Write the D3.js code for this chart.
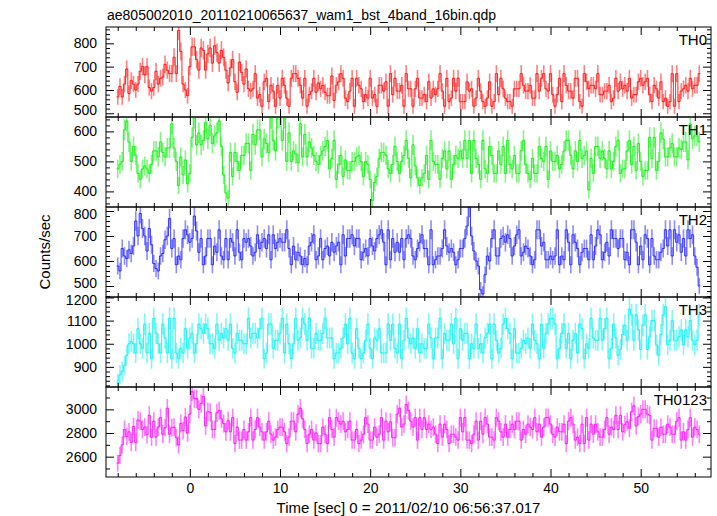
<!DOCTYPE html>
<html><head><meta charset="utf-8">
<script src="https://cdn.jsdelivr.net/npm/d3@7"></script>
<style>
body{margin:0;background:#fff;}
svg{display:block;font-family:"Liberation Sans",Arial,Helvetica,sans-serif;}
</style></head>
<body>
<svg id="c" width="717" height="516"></svg>
<script>
// ---- data ----
const title = "ae805002010_20110210065637_wam1_bst_4band_16bin.qdp";
const xLabel = "Time [sec] 0 = 2011/02/10 06:56:37.017";
const yLabel = "Counts/sec";
const panelNames = ["TH0","TH1","TH2","TH3","TH0123"];
const binStart = -8.0;     // sec, first bin centre
const binWidth = 0.25;     // sec
const effExposure = 0.5;   // sec, effective exposure used for the error bars
const xTicksMajor = [0,10,20,30,40,50];

const th0 = [
570,615,570,625,690,585,640,625,600,625,680,700,665,700,610,595,610,680,625,650,
655,710,685,670,670,740,670,855,765,625,600,575,700,785,785,730,685,780,770,685,
755,780,715,790,760,715,770,740,685,630,695,730,635,590,720,675,625,690,605,595,
605,670,565,580,530,635,650,550,620,595,530,620,565,650,620,565,530,650,670,670,
650,620,565,650,530,580,595,650,590,630,605,620,590,575,575,660,555,620,635,670,
650,565,550,595,650,530,650,620,605,550,580,565,650,565,580,530,620,620,595,635,
530,670,580,650,595,595,620,530,670,605,605,530,605,650,565,565,580,550,635,565,
605,580,605,670,595,530,650,550,565,650,595,650,550,550,550,635,595,605,530,565,
650,595,550,530,565,635,530,550,670,580,650,605,565,550,550,530,605,605,605,670,
620,595,595,620,565,565,670,595,650,670,605,595,670,580,530,580,650,550,670,620,
595,595,565,650,650,550,530,670,635,605,620,620,605,670,580,580,595,595,620,550,
565,650,595,635,605,620,595,650,565,580,580,635,650,620,635,650,580,550,620,605,
565,635,550,565,530,550,670,530,670,550,595,605,620,595,650,605,620,620,670];
const th1 = [
475,490,500,605,635,565,500,550,520,460,440,475,485,475,460,490,535,535,515,565,
530,515,545,545,625,545,500,420,515,455,505,425,460,580,645,555,595,555,570,630,
575,620,560,585,595,635,550,455,395,378,530,450,530,500,470,520,520,560,560,470,
590,555,605,605,515,575,560,530,645,570,535,645,650,570,645,500,595,500,535,525,
495,625,515,590,515,565,545,520,500,490,520,535,550,570,475,510,570,440,490,520,
450,505,470,470,500,500,515,520,500,450,500,490,440,370,430,450,510,530,530,520,
475,460,490,550,500,460,500,520,570,510,445,555,485,445,420,445,460,520,440,570,
500,490,490,440,510,535,475,535,440,490,520,510,535,510,570,510,570,460,570,510,
490,440,570,475,460,550,520,460,460,535,490,550,460,570,490,475,520,460,460,535,
570,490,460,440,510,460,460,550,510,500,550,440,535,500,500,520,475,490,535,570,
570,520,475,535,500,570,510,520,535,405,510,460,550,550,510,535,510,475,535,475,
500,550,570,460,475,475,535,570,490,550,470,560,500,450,470,470,580,510,580,470,
500,595,575,515,515,545,560,515,515,545,540,565,565,505,625,575,585,585,565];
const th2 = [
580,560,650,620,610,645,630,660,760,700,790,730,700,640,730,665,590,570,560,620,
630,685,700,770,650,690,585,620,605,690,725,705,675,690,780,720,635,690,585,620,
690,690,585,660,635,725,620,605,690,605,690,675,620,725,635,605,690,675,690,660,
620,635,705,650,675,690,650,705,605,705,650,675,690,675,675,725,650,585,660,605,
635,620,585,610,585,660,675,705,605,620,690,605,650,660,620,675,635,660,675,585,
705,620,690,690,705,660,690,690,605,635,650,620,690,660,640,690,705,725,675,585,
725,605,690,635,675,635,690,605,690,705,690,620,605,650,675,705,650,650,585,725,
585,605,620,620,650,725,660,635,650,635,585,605,650,650,690,740,815,700,640,600,
580,485,468,545,620,600,690,725,620,620,690,700,675,705,690,620,660,705,725,620,
635,660,650,620,585,605,725,725,660,675,605,605,620,605,620,725,585,620,605,725,
675,585,705,675,650,585,635,650,650,605,705,605,660,725,705,605,635,675,620,725,
690,690,650,690,690,605,635,585,725,725,675,585,660,605,705,690,585,690,620,605,
605,635,650,725,660,725,620,725,675,705,635,690,620,725,690,705,620,575,500];
const th3 = [
830,865,880,905,950,1000,1010,1000,960,1065,1000,980,1085,960,1045,935,1110,1045,1000,960,
1085,1025,960,1110,935,1110,960,935,980,960,1065,980,1025,1045,960,1000,1085,1065,1045,1085,
1065,1000,1000,980,1085,1015,1045,1025,1065,1015,1085,980,960,1045,1015,1015,1000,1000,1110,1025,
1045,1045,1025,1065,1110,935,960,1085,1085,980,1015,1015,1045,1110,960,1085,1000,935,1000,1110,
1015,1025,1110,1085,1015,1110,980,980,1045,1015,1015,1045,1110,1025,1025,1025,935,960,960,980,
1025,1085,1000,1110,960,935,1065,980,935,960,1015,1085,980,935,1025,1015,1065,960,960,960,
1085,1015,1085,980,960,1085,935,1015,1110,1025,1000,1025,980,1065,960,1000,980,980,1085,1025,
935,1025,1025,1110,935,1045,1015,1015,1085,1000,1110,935,1065,1015,1045,1045,935,1000,980,1085,
980,1000,960,1025,1045,1085,935,1085,1015,960,980,1085,1110,1065,1045,935,1065,960,960,980,
1015,1000,1025,980,1085,1015,1000,935,1085,980,1045,1085,1110,1110,1085,935,980,1045,1085,980,
1045,935,1015,1045,960,1085,1065,935,1000,980,1110,1025,1015,1015,1110,1015,1065,1110,935,980,
1085,1025,950,975,1040,1080,1015,1150,1125,1015,1125,1060,975,1080,1125,975,1030,1100,1100,995,
950,1040,1125,1160,995,1015,1100,1015,1015,1030,1060,995,1060,1030,1100,1015,995,1015,1125];
const th0123 = [
2545,2610,2700,2830,2770,2810,2720,2855,2720,2910,2900,2830,2850,2785,2950,2765,2900,2765,2850,2930,
2790,2845,3010,2790,2845,2850,2760,2700,2880,2820,2935,2800,2960,3150,3090,3090,3000,3050,3110,2860,
2980,2975,2830,2830,2970,2990,2920,2880,2810,2905,2810,2930,2710,2850,2740,2740,2830,2740,2810,2930,
2740,2830,2930,2850,2810,2740,2810,2900,2790,2740,2765,2830,2850,2850,2810,2710,2765,2900,2900,2810,
2960,3010,2920,2830,2710,2790,2830,2740,2800,2710,2710,2850,2790,2710,2930,2830,2765,2930,2900,2875,
2900,2810,2830,2900,2740,2740,2830,2710,2740,2790,2930,2875,2740,2740,2850,2765,2790,2930,2740,2900,
2810,2895,2760,2760,2960,3010,2850,2875,3040,2990,2900,2850,2930,2740,2930,2830,2930,2830,2875,2830,
2850,2790,2710,2875,2765,2875,2830,2710,2790,2790,2765,2740,2930,2810,2930,2740,2740,2710,2790,2900,
2740,2900,2790,2930,2875,2765,2765,2740,2930,2900,2810,2765,2875,2765,2830,2875,2830,2900,2900,2740,
2830,2790,2875,2850,2830,2930,2810,2875,2765,2850,2930,2930,2875,2790,2765,2850,2810,2810,2875,2710,
2900,2930,2875,2740,2765,2710,2875,2710,2930,2740,2875,2790,2875,2810,2765,2765,2830,2930,2790,2850,
2830,2950,2830,2950,2810,2870,2895,2840,2980,3030,2860,2940,2960,3000,3000,2960,2950,2740,2840,2840,
2765,2850,2790,2790,2875,2850,2790,2790,2900,2930,2740,2810,2740,2830,2930,2765,2850,2830,2790];

const yDomains = [[484,870],[348,648],[456,816],[813,1202],[2428,3189]];
const yMajors = [[500,600,700,800],[400,500,600],[500,600,700,800],[900,1000,1100,1200],[2600,2800,3000]];
const yMinorStep = [20,20,20,20,100];
const series = [th0, th1, th2, th3, th0123];
const colors = ["#ff0000","#00ee00","#1a1aff","#00f0f0","#ff00ff"];

// ---- layout ----
const svg = d3.select("#c");
const defs = svg.append("defs");
const L = 106, R = 711, T = 27, PH = 90, NP = 5;
const x = d3.scaleLinear().domain([-9.3, 57.8]).range([L, R]);
const xMinor = d3.range(-8, 58, 2).filter(v => v % 10 !== 0);
const FONT = '"Liberation Sans",Arial,sans-serif';

series.forEach((vals, p) => {
  const top = T + p*PH, bot = top + PH;
  const y = d3.scaleLinear().domain(yDomains[p]).range([bot, top]);
  const g = svg.append("g");
  const clipId = "clip"+p;
  defs.append("clipPath").attr("id", clipId)
    .append("rect").attr("x",L).attr("y",top).attr("width",R-L).attr("height",PH);

  const pts = vals.map((v,i) => ({t: binStart + i*binWidth, v: v, e: Math.sqrt(v/effExposure)}));
  const dg = g.append("g").attr("clip-path", `url(#${clipId})`);
  dg.selectAll("line.err").data(pts).join("line")
    .attr("x1", d => x(d.t)).attr("x2", d => x(d.t))
    .attr("y1", d => y(d.v - d.e)).attr("y2", d => y(d.v + d.e))
    .attr("stroke", colors[p]).attr("stroke-width", 1.6).attr("stroke-opacity", 0.5);
  const stepPts = [{t: pts[0].t - binWidth/2, v: pts[0].v}, ...pts, {t: pts[pts.length-1].t + binWidth/2, v: pts[pts.length-1].v}];
  dg.append("path").datum(stepPts)
    .attr("d", d3.line().x(d => x(d.t)).y(d => y(d.v)).curve(d3.curveStep))
    .attr("fill","none").attr("stroke", colors[p]).attr("stroke-width", 1).attr("stroke-opacity", 0.85);

  const mn = d3.range(Math.ceil(yDomains[p][0]/yMinorStep[p])*yMinorStep[p], yDomains[p][1], yMinorStep[p])
               .filter(v => !yMajors[p].includes(v));
  const ay = g.append("g").attr("transform",`translate(${L},0)`)
    .call(d3.axisLeft(y).tickValues(yMajors[p]).tickSize(-8).tickPadding(9).tickFormat(d3.format("d")));
  ay.selectAll("text").attr("font-size", 14).attr("fill","#000").attr("font-family",FONT)
    .attr("transform", d => {
      const py = y(d);
      if (py - top < 8) return "translate(0,3)";
      if (bot - py < 14) return "translate(0,-3)";
      return null;
    });
  g.append("g").attr("transform",`translate(${L},0)`)
    .call(d3.axisLeft(y).tickValues(mn).tickSize(-4).tickFormat(""));
  g.append("g").attr("transform",`translate(${R},0)`)
    .call(d3.axisRight(y).tickValues(yMajors[p]).tickSize(-8).tickFormat(""));
  g.append("g").attr("transform",`translate(${R},0)`)
    .call(d3.axisRight(y).tickValues(mn).tickSize(-4).tickFormat(""));

  const ab = g.append("g").attr("transform",`translate(0,${bot})`)
    .call(d3.axisBottom(x).tickValues(xTicksMajor).tickSize(-8).tickPadding(6)
      .tickFormat(p === NP-1 ? d3.format("d") : ""));
  ab.selectAll("text").attr("font-size", 14).attr("fill","#000").attr("font-family",FONT);
  g.append("g").attr("transform",`translate(0,${bot})`)
    .call(d3.axisBottom(x).tickValues(xMinor).tickSize(-4).tickFormat(""));
  g.append("g").attr("transform",`translate(0,${top})`)
    .call(d3.axisTop(x).tickValues(xTicksMajor).tickSize(-8).tickFormat(""));
  g.append("g").attr("transform",`translate(0,${top})`)
    .call(d3.axisTop(x).tickValues(xMinor).tickSize(-4).tickFormat(""));
  g.selectAll(".domain").remove();
  g.selectAll(".tick line").attr("stroke","#000");

  g.append("rect").attr("x",L).attr("y",top).attr("width",R-L).attr("height",PH)
    .attr("fill","none").attr("stroke","#000").attr("stroke-width",1);

  g.append("text").attr("x", 707).attr("y", top + 18).attr("text-anchor","end")
    .attr("font-size", 15).text(panelNames[p]);
});

svg.append("text").attr("x", 107).attr("y", 20).attr("font-size", 14).text(title);
svg.append("text").attr("x", (L+R)/2).attr("y", 513).attr("text-anchor","middle")
  .attr("font-size", 15).text(xLabel);
svg.append("text").attr("transform", `translate(50,${T+PH*NP/2}) rotate(-90)`)
  .attr("text-anchor","middle").attr("font-size", 15).text(yLabel);
</script>
</body></html>
